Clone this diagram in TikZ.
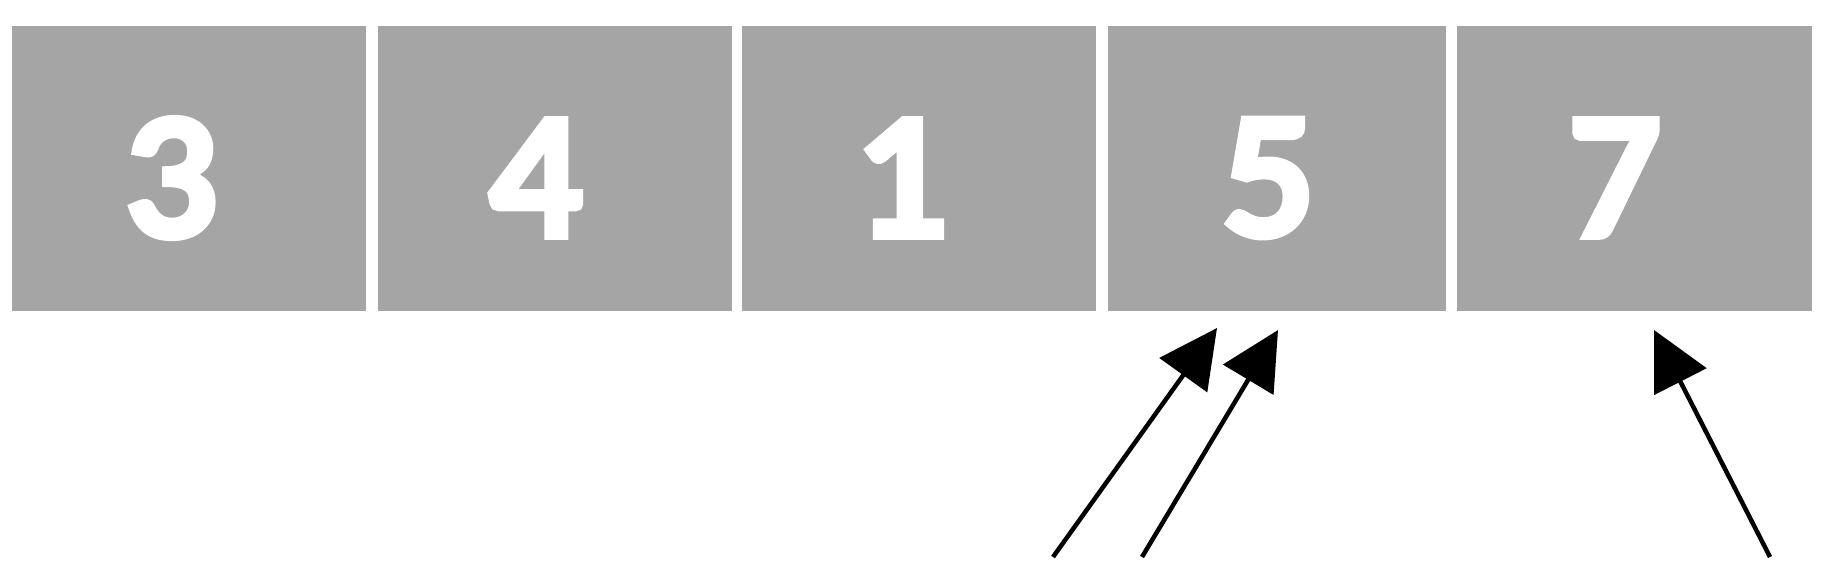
\documentclass[tikz,border=0pt]{standalone}
\usepackage{fontspec}
\setmainfont{Carlito}
\newfontfamily\digitfont{Lato}[BoldFeatures={FakeBold=4}]
\usetikzlibrary{arrows.meta}
\definecolor{cellgray}{HTML}{A5A5A5}
\tikzset{
  cell/.style={fill=cellgray, draw=none, inner sep=0pt, anchor=north west, minimum height=285pt},
  digit/.style={text=white, inner sep=0pt, font=\digitfont\bfseries\fontsize{162}{162}\selectfont},
  pointer/.style={line width=4.5pt, -{Triangle[length=58pt,width=58pt]}}
}
\begin{document}
\begin{tikzpicture}[x=1pt,y=-1pt]
\useasboundingbox (0,0) rectangle (1839,560);
\node[cell, minimum width=354pt] (c1) at (12,26) {};
\node[cell, minimum width=354pt] (c2) at (378,26) {};
\node[cell, minimum width=354pt] (c3) at (742,26) {};
\node[cell, minimum width=338pt] (c4) at (1108,26) {};
\node[cell, minimum width=355pt] (c5) at (1457,26) {};
\node[digit] (d1) at (173,178) {3};
\node[digit] (d2) at (537,178) {4};
\node[digit] (d3) at (904,178) {1};
\node[digit] (d4) at (1268,178) {5};
\node[digit] (d5) at (1615,178) {7};
\coordinate (t1) at (1217,328);
\coordinate (t2) at (1278,330);
\coordinate (t3) at (1654,330);
\coordinate (s1) at (1053,557);
\coordinate (s2) at (1142,557);
\coordinate (s3) at (1770,557);
\draw[pointer] (s1) -- (t1);
\draw[pointer] (s2) -- (t2);
\draw[pointer] (s3) -- (t3);
\end{tikzpicture}
\end{document}
